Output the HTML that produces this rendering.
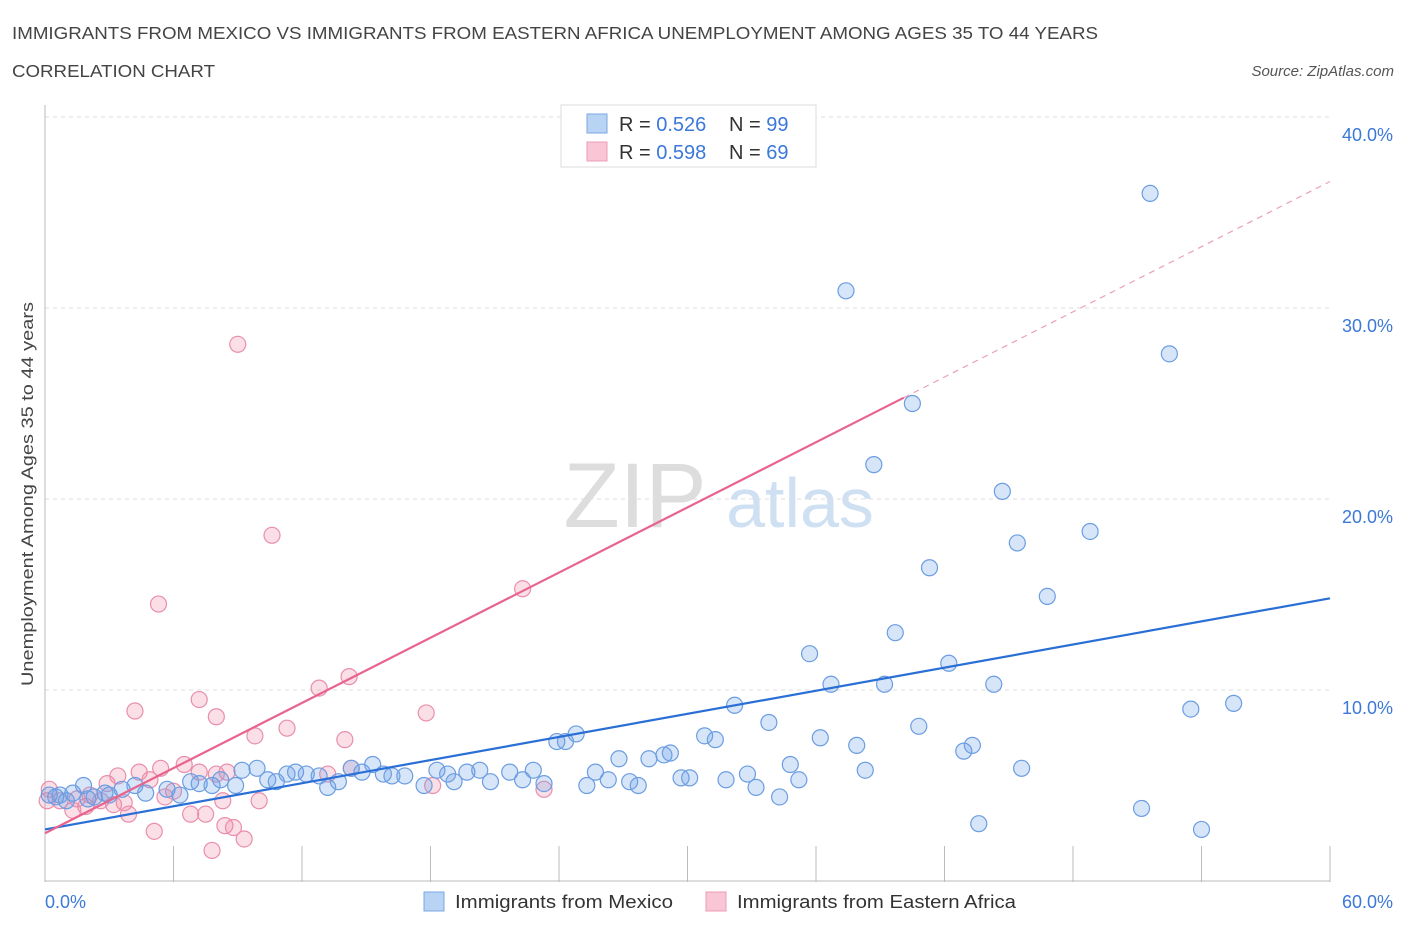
<!DOCTYPE html>
<html><head><meta charset="utf-8"><style>
body{margin:0;background:#fff;font-family:"Liberation Sans",sans-serif;}
svg text{font-family:"Liberation Sans",sans-serif;}
</style></head><body>
<svg id="chart" width="1406" height="930" xmlns="http://www.w3.org/2000/svg">
<text x="12" y="39" font-size="17.5" fill="#444" textLength="1086" lengthAdjust="spacingAndGlyphs">IMMIGRANTS FROM MEXICO VS IMMIGRANTS FROM EASTERN AFRICA UNEMPLOYMENT AMONG AGES 35 TO 44 YEARS</text>
<text x="12" y="77" font-size="17.5" fill="#444" textLength="203" lengthAdjust="spacingAndGlyphs">CORRELATION CHART</text>
<text x="1394" y="76" font-size="15" fill="#555" font-style="italic" text-anchor="end">Source: ZipAtlas.com</text>
<g>
<text x="635" y="527" font-size="92" fill="#ddd" font-family="Liberation Serif" text-anchor="middle">ZIP</text>
<text x="800" y="527" font-size="70" fill="#cfe0f3" text-anchor="middle">atlas</text>
</g>
<g id="grid"></g>
<g id="marks"></g>
<text transform="translate(33,494) rotate(-90)" font-size="17" fill="#444" text-anchor="middle" textLength="384" lengthAdjust="spacingAndGlyphs">Unemployment Among Ages 35 to 44 years</text>
<text x="45" y="908" font-size="18" fill="#3b78d8">0.0%</text>
<text x="1393" y="908" font-size="18" fill="#3b78d8" text-anchor="end">60.0%</text>
<g>
<rect x="561" y="105" width="255" height="62" fill="#fff" stroke="#ddd"/>
<rect x="587" y="114" width="20" height="19" fill="#b8d3f3" stroke="#7aa7e3"/>
<rect x="587" y="142" width="20" height="19" fill="#f8c6d5" stroke="#ec9cb5"/>
<text x="619" y="131" font-size="20" fill="#333">R = <tspan fill="#3b78d8">0.526</tspan><tspan x="729">N = </tspan><tspan fill="#3b78d8">99</tspan></text>
<text x="619" y="159" font-size="20" fill="#333">R = <tspan fill="#3b78d8">0.598</tspan><tspan x="729">N = </tspan><tspan fill="#3b78d8">69</tspan></text>
</g>
<g>
<rect x="424" y="892" width="20" height="19" fill="#b8d3f3" stroke="#7aa7e3"/>
<text x="455" y="908" font-size="18" fill="#333" textLength="218" lengthAdjust="spacingAndGlyphs">Immigrants from Mexico</text>
<rect x="706" y="892" width="20" height="19" fill="#f8c6d5" stroke="#ec9cb5"/>
<text x="737" y="908" font-size="18" fill="#333" textLength="279" lengthAdjust="spacingAndGlyphs">Immigrants from Eastern Africa</text>
</g>
</svg>
<script>
const yTicks=[10,20,30,40];
const yTickLabels=["10.0%","20.0%","30.0%","40.0%"];
const xTicks=[0,6,12,18,24,30,36,42,48,54,60];
const mexicoX=[51.6,37.4,52.5,40.5,38.7,44.7,48.8,45.4,41.3,46.8,39.7,35.7,42.2,36.7,39.2,44.3,55.5,53.5,32.2,33.8,40.8,30.8,31.3,36.2,24.8,23.9,24.3,37.9,43.3,42.9,29.2,28.9,28.2,26.8,34.8,38.3,45.6,32.8,35.2,31.8,30.1,29.7,25.7,26.3,27.3,27.7,25.3,33.2,34.3,22.8,21.7,22.3,23.3,20.3,20.8,19.7,19.1,18.3,18.8,17.7,16.8,16.2,15.8,15.3,14.3,14.8,13.7,13.2,12.8,12.2,11.7,11.3,10.8,10.4,9.9,9.2,8.9,8.2,7.8,7.2,6.8,6.3,5.7,4.7,4.2,3.6,2.8,2.3,1.8,1.3,0.7,0.2,51.2,54.0,43.6,1.0,0.5,2.0,3.0];
const mexicoY=[36.0,30.9,27.6,25.0,21.8,20.4,18.3,17.7,16.4,14.9,13.0,11.9,11.4,10.3,10.3,10.3,9.3,9.0,9.2,8.3,8.1,7.6,7.4,7.5,7.7,7.3,7.3,7.1,7.1,6.8,6.7,6.6,6.4,6.4,6.1,5.8,5.9,5.6,5.3,5.3,5.4,5.4,5.7,5.3,5.2,5.0,5.0,4.9,4.4,5.8,5.7,5.3,5.1,5.8,5.2,5.7,5.2,5.8,5.6,5.0,5.5,5.5,5.6,6.1,5.9,5.7,5.2,4.9,5.5,5.6,5.7,5.6,5.2,5.3,5.9,5.8,5.0,5.3,5.0,5.1,5.2,4.5,4.8,4.6,5.0,4.8,4.6,4.4,5.0,4.6,4.5,4.5,3.8,2.7,3.0,4.2,4.4,4.3,4.5];
const africaX=[9.0,10.6,5.3,22.3,14.2,12.8,4.2,7.2,8.0,17.8,11.3,9.8,14.0,6.5,5.4,4.4,3.4,7.2,8.0,8.5,4.9,13.2,14.3,2.9,18.1,23.3,5.6,6.0,6.8,7.5,8.3,3.9,5.1,8.4,8.8,9.3,7.8,10.0,3.7,2.6,1.9,1.3,0.7,0.2,0.1,2.1,3.2,1.5];
const africaY=[28.1,18.1,14.5,15.3,10.7,10.1,8.9,9.5,8.6,8.8,8.0,7.6,7.4,6.1,5.9,5.7,5.5,5.7,5.6,5.7,5.3,5.6,5.9,5.1,5.0,4.8,4.4,4.7,3.5,3.5,4.2,3.5,2.6,2.9,2.8,2.2,1.6,4.2,4.1,4.2,3.9,3.7,4.2,4.8,4.2,4.5,4.0,4.3];
const mexicoFit=[2.7,0.2017];
const africaFit=[2.5,0.5687];
const africaSolidEnd=40.1;

const NS="http://www.w3.org/2000/svg";
const sx=v=>45+v*(1285/60);
const sy=v=>881-v*19.1;
function mk(tag,attrs,parent){const e=document.createElementNS(NS,tag);for(const k in attrs)e.setAttribute(k,attrs[k]);parent.appendChild(e);return e;}
const grid=document.getElementById('grid'),marks=document.getElementById('marks');
yTicks.forEach((t,i)=>{
 const l=mk('line',{x1:45,x2:1330,y1:sy(t),y2:sy(t),stroke:'#ddd','stroke-dasharray':'4,4'},grid);
 
 
 const tx=mk('text',{x:1393,y:sy(t)+24,'font-size':18,fill:'#3b78d8','text-anchor':'end'},grid);
 tx.textContent=yTickLabels[i];
 
 
});
const ya=mk('line',{x1:45,x2:45,y1:105,y2:882,stroke:'#bbb'},grid);


const xa=mk('line',{x1:45,x2:1330,y1:881,y2:881,stroke:'#bbb'},grid);


xTicks.forEach(t=>{
 const l=mk('line',{x1:sx(t),x2:sx(t),y1:846,y2:882,stroke:'#bbb'},grid);
 
 
});
africaX.forEach((x,i)=>{
 const c=mk('circle',{cx:sx(x),cy:sy(africaY[i]),r:8,fill:'rgba(240,140,170,0.28)',stroke:'#e98eac','stroke-width':1.2},marks);
 
 
});
mexicoX.forEach((x,i)=>{
 const c=mk('circle',{cx:sx(x),cy:sy(mexicoY[i]),r:8,fill:'rgba(110,160,230,0.28)',stroke:'#6b9de2','stroke-width':1.2},marks);
 
 
});
const bl=mk('line',{x1:sx(0),y1:sy(mexicoFit[0]),x2:sx(60),y2:sy(mexicoFit[0]+mexicoFit[1]*60),stroke:'#2a6fd6','stroke-width':2.2},marks);


const pl=mk('line',{x1:sx(0),y1:sy(africaFit[0]),x2:sx(africaSolidEnd),y2:sy(africaFit[0]+africaFit[1]*africaSolidEnd),stroke:'#e8648e','stroke-width':2.2},marks);


const pd=mk('line',{x1:sx(africaSolidEnd),y1:sy(africaFit[0]+africaFit[1]*africaSolidEnd),x2:sx(60),y2:sy(africaFit[0]+africaFit[1]*60),stroke:'#eaa0b8','stroke-width':1.2,'stroke-dasharray':'6,5'},marks);


</script>
</body></html>
